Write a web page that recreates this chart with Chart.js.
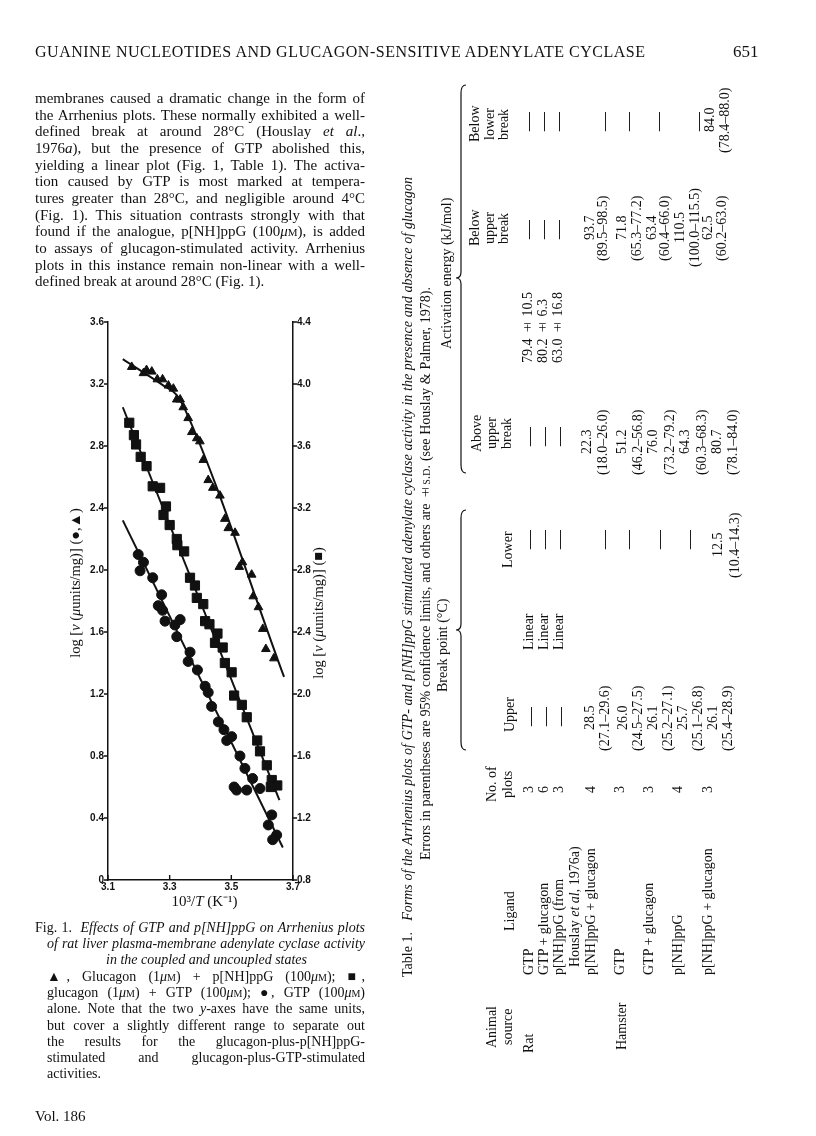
<!DOCTYPE html>
<html><head><meta charset="utf-8">
<script src="https://cdn.jsdelivr.net/npm/chart.js@4.4.1/dist/chart.umd.min.js"></script>
<style>
html,body{margin:0;padding:0;background:#fff;}
#page{position:relative;width:816px;height:1136px;overflow:hidden;background:#fff;color:#111;font-family:"Liberation Serif","Times New Roman",serif;}
.ln{position:absolute;white-space:nowrap;}
.jj{white-space:normal;text-align:justify;text-align-last:justify;}
.vt{position:absolute;writing-mode:vertical-rl;transform:rotate(180deg);white-space:nowrap;}
.vj{white-space:normal;text-align:justify;text-align-last:justify;}
.sc{font-variant:small-caps;}
.sym{letter-spacing:-3px;}
</style></head>
<body><div id="page">
<canvas id="c" width="280" height="620" style="position:absolute;left:60px;top:300px;width:280px;height:620px"></canvas>
<svg id="braces" width="816" height="1136" style="position:absolute;left:0;top:0;pointer-events:none"></svg>
</div>
<script>
// ---------------- chart data ----------------
const xTicks  = [3.1, 3.3, 3.5, 3.7];
const yTicksL = [0, 0.4, 0.8, 1.2, 1.6, 2.0, 2.4, 2.8, 3.2, 3.6];
const yTicksR = [0.8, 1.2, 1.6, 2.0, 2.4, 2.8, 3.2, 3.6, 4.0, 4.4];

// ▲ Glucagon + p[NH]ppG (left axis)
const triX = [3.177,3.215,3.225,3.242,3.260,3.277,3.296,3.312,3.323,3.334,3.344,3.360,3.372,3.388,3.398,3.409,3.425,3.440,3.463,3.479,3.490,3.512,3.526,3.536,3.566,3.571,3.588,3.602,3.612,3.638];
const triY = [3.31,3.27,3.29,3.28,3.23,3.23,3.19,3.17,3.10,3.10,3.05,2.98,2.89,2.85,2.83,2.71,2.58,2.53,2.48,2.33,2.27,2.24,2.02,2.05,1.97,1.83,1.76,1.62,1.49,1.43];
// ■ Glucagon + GTP (right axis)
const sqX = [3.169,3.184,3.191,3.206,3.225,3.245,3.269,3.288,3.280,3.300,3.323,3.325,3.347,3.366,3.382,3.388,3.409,3.415,3.429,3.455,3.447,3.472,3.479,3.501,3.509,3.534,3.550,3.584,3.593,3.615,3.631,3.649,3.628];
const sqY = [3.75,3.67,3.61,3.53,3.47,3.34,3.33,3.21,3.155,3.09,3.00,2.96,2.92,2.75,2.70,2.62,2.58,2.47,2.45,2.39,2.33,2.30,2.20,2.14,1.99,1.93,1.85,1.70,1.63,1.54,1.445,1.41,1.40];
// ● GTP alone (left axis)
const ciX = [3.198,3.215,3.204,3.245,3.274,3.263,3.277,3.285,3.334,3.317,3.323,3.366,3.360,3.390,3.415,3.425,3.436,3.458,3.476,3.485,3.501,3.528,3.544,3.569,3.509,3.517,3.550,3.593,3.631,3.620,3.647,3.634];
const ciY = [2.10,2.05,1.995,1.95,1.84,1.77,1.74,1.67,1.68,1.645,1.57,1.47,1.41,1.355,1.25,1.21,1.12,1.02,0.97,0.90,0.925,0.80,0.72,0.655,0.60,0.58,0.58,0.59,0.42,0.355,0.29,0.26];
// fitted lines
const triLineX = [3.148,3.28,3.32,3.35,3.671];
const triLineY = [3.36,3.19,3.135,3.035,1.31];
const sqLineX  = [3.148,3.656];
const sqLineY  = [3.85,1.316];
const ciLineX  = [3.148,3.667];
const ciLineY  = [2.32,0.21];

const SERIF = '"Liberation Serif","Times New Roman",serif';
const SANS  = '"Liberation Sans",Arial,sans-serif';
const leftTitle  = [['log [',''],['v','italic '],[' (',''],['μ','italic '],['units/mg)] (●,▲)','']];
const rightTitle = [['log [',''],['v','italic '],[' (',''],['μ','italic '],['units/mg)] (■)','']];
const xTitle     = [['10³/',''],['T','italic '],[' (K⁻¹)','']];

const zip = (xs, ys) => xs.map((x, i) => ({x: x, y: ys[i]}));

function drawRich(ctx, parts, size, cx, cy, rot){
  ctx.save();
  ctx.translate(cx, cy); ctx.rotate(rot);
  let w = 0;
  const ps = parts.map(p => { ctx.font = p[1] + size + 'px ' + SERIF; const m = ctx.measureText(p[0]).width; w += m; return [p[0], p[1], m]; });
  let x = -w/2;
  ctx.textBaseline = 'middle'; ctx.textAlign = 'left'; ctx.fillStyle = '#111';
  ps.forEach(p => { ctx.font = p[1] + size + 'px ' + SERIF; ctx.fillText(p[0], x, 0); x += p[2]; });
  ctx.restore();
}

const decor = {
  id: 'decor',
  afterDraw(chart){
    const ctx = chart.ctx, a = chart.chartArea;
    const sx = chart.scales.x, yl = chart.scales.y, yr = chart.scales.y1;
    ctx.save();
    ctx.strokeStyle = '#111'; ctx.lineWidth = 1.4;
    ctx.beginPath();
    yTicksL.forEach(v => { const p = yl.getPixelForValue(v); ctx.moveTo(a.left - 4, p); ctx.lineTo(a.left, p); });
    yTicksR.forEach(v => { const p = yr.getPixelForValue(v); ctx.moveTo(a.right, p); ctx.lineTo(a.right + 4, p); });
    xTicks.forEach(v => { const p = sx.getPixelForValue(v); ctx.moveTo(p, a.bottom); ctx.lineTo(p, a.bottom - 5); });
    ctx.stroke();
    ctx.restore();
    drawRich(ctx, leftTitle, 14.5, a.left - 32, (a.top + a.bottom)/2 - 18, -Math.PI/2);
    drawRich(ctx, rightTitle, 14.5, a.right + 26, (a.top + a.bottom)/2 + 12, -Math.PI/2);
    drawRich(ctx, xTitle, 15, (a.left + a.right)/2 + 4, a.bottom + 22, 0);
  }
};

const tickFont = {family: SANS, size: 10, weight: 'bold'};
function fixed(arr){ return s => { s.ticks = arr.map(v => ({value: v})); }; }
const fmt = v => (v === 0 ? '0' : Number(v).toFixed(1));

new Chart(document.getElementById('c'), {
  type: 'scatter',
  data: { datasets: [
    {label:'Glucagon + p[NH]ppG', data: zip(triX, triY), yAxisID:'y', pointStyle:'triangle', pointRadius:5, backgroundColor:'#111', borderColor:'#111', borderWidth:1},
    {label:'Glucagon + GTP', data: zip(sqX, sqY), yAxisID:'y1', pointStyle:'rect', pointRadius:6.5, backgroundColor:'#111', borderColor:'#111', borderWidth:1},
    {label:'GTP alone', data: zip(ciX, ciY), yAxisID:'y', pointStyle:'circle', pointRadius:5, backgroundColor:'#111', borderColor:'#111', borderWidth:1},
    {type:'line', label:'fit ▲', data: zip(triLineX, triLineY), yAxisID:'y', borderColor:'#111', borderWidth:2, pointRadius:0, cubicInterpolationMode:'monotone', fill:false},
    {type:'line', label:'fit ■', data: zip(sqLineX, sqLineY), yAxisID:'y1', borderColor:'#111', borderWidth:2, pointRadius:0, fill:false},
    {type:'line', label:'fit ●', data: zip(ciLineX, ciLineY), yAxisID:'y', borderColor:'#111', borderWidth:2, pointRadius:0, fill:false}
  ]},
  options: {
    responsive:false, animation:false, devicePixelRatio:1,
    layout:{padding:{top:22,left:0,right:0,bottom:0}, autoPadding:false},
    plugins:{legend:{display:false}, tooltip:{enabled:false}, title:{display:false}},
    scales:{
      x:{type:'linear', min:3.1, max:3.7, grid:{display:false, drawTicks:false},
         border:{display:true, color:'#111', width:1.5},
         ticks:{font:tickFont, color:'#111', padding:1, maxRotation:0, autoSkip:false, callback:fmt},
         afterBuildTicks: fixed(xTicks), afterFit: s => { s.height = 40; }},
      y:{type:'linear', position:'left', min:0, max:3.6, grid:{display:false, drawTicks:false},
         border:{display:true, color:'#111', width:1.5},
         ticks:{font:tickFont, color:'#111', padding:4, autoSkip:false, callback:fmt},
         afterBuildTicks: fixed(yTicksL), afterFit: s => { s.width = 48; }},
      y1:{type:'linear', position:'right', min:0.8, max:4.4, grid:{display:false, drawTicks:false},
         border:{display:true, color:'#111', width:1.5},
         ticks:{font:tickFont, color:'#111', padding:4, autoSkip:false, callback:fmt},
         afterBuildTicks: fixed(yTicksR), afterFit: s => { s.width = 47; }}
    }
  },
  plugins:[decor]
});

// ---------------- page text ----------------
const page = document.getElementById('page');
function line(html, left, baseline, fs, width, cls){
  const d = document.createElement('div');
  d.className = 'ln' + (cls ? ' ' + cls : '');
  d.style.left = left + 'px';
  d.style.top = (baseline - 0.8375*fs) + 'px';
  d.style.fontSize = fs + 'px';
  d.style.lineHeight = fs + 'px';
  if (width) d.style.width = width + 'px';
  d.innerHTML = html;
  page.appendChild(d);
  return d;
}
function fitSpacing(d, target){
  const n = d.textContent.length;
  const w = d.getBoundingClientRect().width;
  d.style.letterSpacing = ((target - w)/(n - 1)) + 'px';
}
const h = line('GUANINE NUCLEOTIDES AND GLUCAGON-SENSITIVE ADENYLATE CYCLASE', 35, 57, 16);
fitSpacing(h, 610);
line('651', 733, 57, 17);

const uM = '<i>μ</i><span class="sc">m</span>';
const para = [
 'membranes caused a dramatic change in the form of',
 'the Arrhenius plots. These normally exhibited a well-',
 'defined break at around 28°C (Houslay <i>et al</i>.,',
 '1976<i>a</i>), but the presence of GTP abolished this,',
 'yielding a linear plot (Fig. 1, Table 1). The activa-',
 'tion caused by GTP is most marked at tempera-',
 'tures greater than 28°C, and negligible around 4°C',
 '(Fig. 1). This situation contrasts strongly with that',
 'found if the analogue, p[NH]ppG (100' + uM + '), is added',
 'to assays of glucagon-stimulated activity. Arrhenius',
 'plots in this instance remain non-linear with a well-',
 'defined break at around 28°C (Fig. 1).'
];
para.forEach((t, i) => line(t, 35, 103.5 + 16.67*i, 15, 330, i < para.length - 1 ? 'jj' : ''));

const cap = [
 ['Fig. 1.&nbsp; <i>Effects of GTP and p[NH]ppG on Arrhenius plots</i>', 35, 330, 'jj'],
 ['<i>of rat liver plasma-membrane adenylate cyclase activity</i>', 47, 318, 'jj'],
 ['<i>in the coupled and uncoupled states</i>', 106, 0, ''],
 ['<span class="sym">▲</span>, Glucagon (1' + uM + ') + p[NH]ppG (100' + uM + '); <span class="sym">■</span>,', 47, 318, 'jj'],
 ['glucagon (1' + uM + ') + GTP (100' + uM + '); <span class="sym">●</span>, GTP (100' + uM + ')', 47, 318, 'jj'],
 ['alone. Note that the two <i>y</i>-axes have the same units,', 47, 318, 'jj'],
 ['but cover a slightly different range to separate out', 47, 318, 'jj'],
 ['the results for the glucagon-plus-p[NH]ppG-', 47, 318, 'jj'],
 ['stimulated and glucagon-plus-GTP-stimulated', 47, 318, 'jj'],
 ['activities.', 47, 0, '']
];
cap.forEach((c, i) => line(c[0], c[1], 932.5 + 16.3*i, 14, c[2], c[3]));
line('Vol. 186', 35, 1122, 15);

// ---------------- rotated table ----------------
const FS = 14;
function vt(html, xc, yBottom, yTop, align, fs, cls){
  fs = fs || FS;
  const d = document.createElement('div');
  d.className = 'vt' + (cls ? ' ' + cls : '');
  d.style.fontSize = fs + 'px'; d.style.lineHeight = fs + 'px'; d.style.width = fs + 'px';
  d.style.left = (xc - fs/2) + 'px';
  d.style.top = yTop + 'px';
  d.style.height = (yBottom - yTop) + 'px';
  d.style.textAlign = align;
  d.innerHTML = html;
  page.appendChild(d);
}
const vc = (t, xc, yc, fs) => vt(t, xc, yc + 300, yc - 300, 'center', fs);
const vb = (t, xc, yb, fs) => vt(t, xc, yb, yb - 600, 'start', fs);
const dash = (xc, yc) => vc('—', xc, yc, 19);

vt('Table 1.&nbsp;&nbsp; <i>Forms of the Arrhenius plots of GTP- and p[NH]ppG stimulated adenylate cyclase activity in the presence and absence of glucagon</i>', 408, 977, 177, 'justify', 14, 'vj');
vt('Errors in parentheses are 95% confidence limits, and others are ±<span class="sc">s.d.</span> (see Houslay &amp; Palmer, 1978).', 426, 860, 287, 'justify', 14, 'vj');
vc('Break point (°C)', 443, 645);
vc('Activation energy (kJ/mol)', 447, 273);

vc('Animal', 492, 1027); vc('source', 508, 1027);
vb('Rat', 529, 1053); vb('Hamster', 622, 1050);
vc('Ligand', 510, 911);
[[529,'GTP'],[544,'GTP + glucagon'],[559,'p[NH]ppG (from'],[591,'p[NH]ppG + glucagon'],[620,'GTP'],[649,'GTP + glucagon'],[678,'p[NH]ppG'],[708,'p[NH]ppG + glucagon']].forEach(r => vb(r[1], r[0], 975));
vb('Houslay <i>et al</i>, 1976a)', 575, 967);

vc('No. of', 492, 784); vc('plots', 508, 784);
[[529,'3'],[544,'6'],[559,'3'],[591,'4'],[620,'3'],[649,'3'],[678,'4'],[708,'3']].forEach(r => vc(r[1], r[0], 790));

vc('Upper', 510, 715);
[529,544,559].forEach(x => dash(x, 717));
[[590,'28.5'],[605,'(27.1–29.6)'],[623,'26.0'],[638,'(24.5–27.5)'],[653,'26.1'],[668,'(25.2–27.1)'],[683,'25.7'],[698,'(25.1–26.8)'],[713,'26.1'],[728,'(25.4–28.9)']].forEach(r => vc(r[1], r[0], 718));

[529,544,559].forEach(x => vc('Linear', x, 632));

vc('Lower', 508, 550);
[528,543,558,603,627,658,688].forEach(x => dash(x, 540));
vc('12.5', 718, 545); vc('(10.4–14.3)', 735, 545);

vc('Above', 477, 433); vc('upper', 492, 433); vc('break', 507, 433);
[528,543,558].forEach(x => dash(x, 437));
[[587,'22.3'],[603,'(18.0–26.0)'],[622,'51.2'],[638,'(46.2–56.8)'],[653,'76.0'],[670,'(73.2–79.2)'],[685,'64.3'],[702,'(60.3–68.3)'],[717,'80.7'],[733,'(78.1–84.0)']].forEach(r => vc(r[1], r[0], 442));

[[528,'79.4 ± 10.5'],[543,'80.2 ± 6.3'],[558,'63.0 ± 16.8']].forEach(r => vb(r[1], r[0], 363));

vc('Below', 475, 228); vc('upper', 490, 228); vc('break', 504, 228);
[527,542,557].forEach(x => dash(x, 230));
[[590,'93.7'],[603,'(89.5–98.5)'],[622,'71.8'],[637,'(65.3–77.2)'],[652,'63.4'],[665,'(60.4–66.0)'],[680,'110.5'],[695,'(100.0–115.5)'],[708,'62.5'],[722,'(60.2–63.0)']].forEach(r => vc(r[1], r[0], 228));

vc('Below', 475, 124); vc('lower', 490, 124); vc('break', 504, 124);
[527,542,557,603,627,657,697].forEach(x => dash(x, 122));
vc('84.0', 710, 120); vc('(78.4–88.0)', 725, 120);

// braces
function brace(xt, xa, y1, y2, ym){
  const xm = (xt + xa)/2;
  return `M${xa} ${y1} Q${xm} ${y1} ${xm} ${y1+8} L${xm} ${ym-6} Q${xm} ${ym} ${xt} ${ym} Q${xm} ${ym} ${xm} ${ym+6} L${xm} ${y2-8} Q${xm} ${y2} ${xa} ${y2}`;
}
document.getElementById('braces').innerHTML =
  `<path d="${brace(456,466,510,750,630)}" fill="none" stroke="#111" stroke-width="1.2"/>` +
  `<path d="${brace(456,466,85,473,278)}" fill="none" stroke="#111" stroke-width="1.2"/>`;
</script>
</body></html>
